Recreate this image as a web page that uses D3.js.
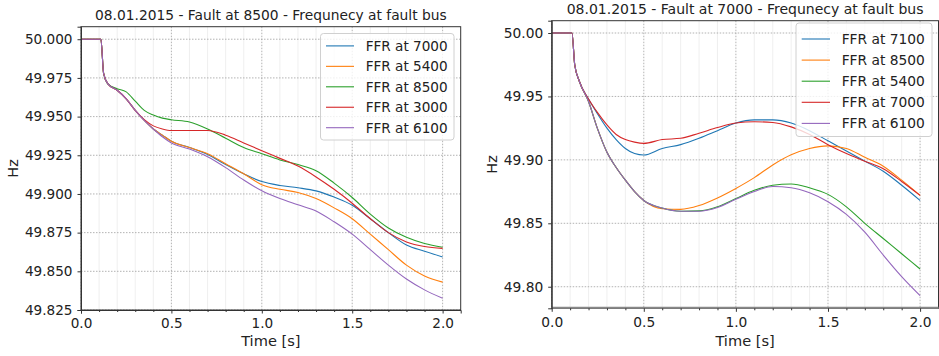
<!DOCTYPE html>
<html>
<head>
<meta charset="utf-8">
<script src="https://cdn.jsdelivr.net/npm/d3@7"></script>
<style>
  body { margin: 0; background: #fff; }
  svg { display: block; font-family: "DejaVu Sans", sans-serif; }
</style>
</head>
<body>
<svg id="chart" width="939" height="356"></svg>
<script>
// time samples shared by every series (seconds)
const times = [0, 0.11, 0.125, 0.15, 0.2, 0.25, 0.3, 0.35, 0.4, 0.45, 0.5, 0.6, 0.7, 0.8, 0.9,
               1.0, 1.1, 1.2, 1.3, 1.4, 1.5, 1.6, 1.7, 1.8, 1.9, 2.0];

// left panel: fault at 8500
const leftNames = ["FFR at 7000", "FFR at 5400", "FFR at 8500", "FFR at 3000", "FFR at 6100"];
const left7000 = [50, 50, 49.978, 49.971, 49.967, 49.9615, 49.954, 49.9475, 49.942, 49.938, 49.934, 49.930, 49.9255,
                  49.919, 49.913, 49.908, 49.9055, 49.904, 49.902, 49.898, 49.8927, 49.884, 49.875, 49.867, 49.863, 49.8593];
const left5400 = [50, 50, 49.978, 49.971, 49.967, 49.9615, 49.954, 49.9475, 49.942, 49.938, 49.934, 49.930, 49.926,
                  49.9195, 49.913, 49.906, 49.903, 49.901, 49.897, 49.891, 49.884, 49.874, 49.864, 49.854, 49.847, 49.843];
const left8500 = [50, 50, 49.978, 49.971, 49.968, 49.966, 49.960, 49.954, 49.951, 49.949, 49.948, 49.9465, 49.942,
                  49.936, 49.930, 49.926, 49.922, 49.919, 49.915, 49.907, 49.8977, 49.887, 49.878, 49.872, 49.868, 49.8656];
const left3000 = [50, 50, 49.978, 49.971, 49.967, 49.9615, 49.954, 49.948, 49.944, 49.942, 49.941, 49.941, 49.941,
                  49.938, 49.933, 49.928, 49.923, 49.918, 49.911, 49.903, 49.894, 49.884, 49.875, 49.869, 49.866, 49.8648];
const left6100 = [50, 50, 49.978, 49.971, 49.967, 49.9615, 49.954, 49.9475, 49.942, 49.937, 49.933, 49.929, 49.924,
                  49.917, 49.909, 49.902, 49.897, 49.893, 49.889, 49.882, 49.874, 49.864, 49.854, 49.845, 49.838, 49.8326];
const leftTicks = [49.825, 49.850, 49.875, 49.900, 49.925, 49.950, 49.975, 50.000];

// right panel: fault at 7000
const rightNames = ["FFR at 7100", "FFR at 8500", "FFR at 5400", "FFR at 7000", "FFR at 6100"];
const right7100 = [50, 50, 49.975, 49.962, 49.948, 49.936, 49.925, 49.916, 49.909, 49.905, 49.9038, 49.909, 49.912,
                   49.917, 49.923, 49.929, 49.9315, 49.9315, 49.929, 49.923, 49.915, 49.907, 49.899, 49.891, 49.880, 49.868];
const right8500 = [50, 50, 49.975, 49.962, 49.946, 49.924, 49.906, 49.894, 49.884, 49.875, 49.868, 49.8615, 49.861,
                   49.864, 49.870, 49.8775, 49.886, 49.896, 49.904, 49.909, 49.911, 49.909, 49.902, 49.895, 49.884, 49.872];
const right5400 = [50, 50, 49.975, 49.962, 49.946, 49.924, 49.906, 49.894, 49.884, 49.875, 49.868, 49.862, 49.8595,
                   49.8598, 49.863, 49.8695, 49.876, 49.880, 49.881, 49.878, 49.8728, 49.863, 49.850, 49.838, 49.826, 49.814];
const right7000 = [50, 50, 49.975, 49.962, 49.948, 49.937, 49.9275, 49.920, 49.916, 49.914, 49.913, 49.916, 49.917,
                   49.921, 49.9255, 49.929, 49.930, 49.9295, 49.926, 49.920, 49.912, 49.905, 49.899, 49.893, 49.883, 49.872];
const right6100 = [50, 50, 49.975, 49.962, 49.946, 49.924, 49.906, 49.894, 49.884, 49.875, 49.868, 49.862, 49.8595,
                   49.8595, 49.8625, 49.869, 49.875, 49.879, 49.878, 49.874, 49.867, 49.857, 49.843, 49.825, 49.808, 49.793];
const rightTicks = [49.80, 49.85, 49.90, 49.95, 50.00];

const xTicks = [0, 0.5, 1.0, 1.5, 2.0];
const colors = ["#1f77b4", "#ff7f0e", "#2ca02c", "#d62728", "#9467bd"];

const svg = d3.select("#chart");

function drawPanel(p) {
  const x = d3.scaleLinear().domain([0, 2.1]).range([p.x0, p.x1]);
  const y = d3.scaleLinear().domain(p.yDomain).range([p.y1, p.y0]);
  const g = svg.append("g");

  // minor vertical grid every 0.1 s
  const minor = d3.range(1, 21).map(i => i / 10).filter(v => Math.round(v * 10) % 5 !== 0);
  g.selectAll(".minor").data(minor).enter().append("line")
    .attr("x1", d => x(d)).attr("x2", d => x(d))
    .attr("y1", p.y0).attr("y2", p.y1)
    .attr("stroke", "#ebebeb").attr("stroke-width", 0.8);

  // major grid, dotted
  g.selectAll(".gx").data(xTicks).enter().append("line")
    .attr("x1", d => x(d)).attr("x2", d => x(d))
    .attr("y1", p.y0).attr("y2", p.y1)
    .attr("stroke", "#a0a0a0").attr("stroke-width", 0.8).attr("stroke-dasharray", "1.5,1.5");
  g.selectAll(".gy").data(p.yTicks).enter().append("line")
    .attr("x1", p.x0).attr("x2", p.x1)
    .attr("y1", d => y(d)).attr("y2", d => y(d))
    .attr("stroke", "#a0a0a0").attr("stroke-width", 0.8).attr("stroke-dasharray", "1.5,1.5");

  // curves
  const line = d3.line().x((d, i) => x(times[i])).y(d => y(d)).curve(d3.curveMonotoneX);
  g.selectAll(".series").data(p.series).enter().append("path")
    .attr("d", d => line(d))
    .attr("fill", "none")
    .attr("stroke", (d, i) => colors[i])
    .attr("stroke-width", 1.1);

  // spines
  g.append("rect")
    .attr("x", p.x0).attr("y", p.y0)
    .attr("width", p.x1 - p.x0).attr("height", p.y1 - p.y0)
    .attr("fill", "none").attr("stroke", "#333").attr("stroke-width", 1);
  if (p.thickBottom) {
    g.append("line").attr("x1", p.x0).attr("x2", p.x1).attr("y1", p.y1 - 0.5).attr("y2", p.y1 - 0.5)
      .attr("stroke", "#888").attr("stroke-width", 2);
  }

  // axes
  const ax = g.append("g").attr("transform", "translate(0," + p.y1 + ")")
    .call(d3.axisBottom(x).tickValues(xTicks).tickFormat(d3.format(".1f")).tickSize(3.5).tickPadding(5));
  g.append("g").attr("transform", "translate(0," + p.y1 + ")")
    .call(d3.axisBottom(x).tickValues(minor).tickFormat("").tickSize(2))
    .call(s => s.select(".domain").remove());
  const ay = g.append("g").attr("transform", "translate(" + p.x0 + ",0)")
    .call(d3.axisLeft(y).tickValues(p.yTicks).tickFormat(d3.format(p.yFormat)).tickSize(3.5).tickPadding(5));
  [ax, ay].forEach(a => {
    a.select(".domain").attr("stroke", "#333");
    a.selectAll("text").attr("font-size", p.fs + "px").attr("fill", "#222")
      .attr("font-family", "DejaVu Sans");
  });
  if (p.thickBottom) ax.select(".domain").remove();
  g.selectAll(".tick line").attr("stroke", "#333");

  // labels
  g.append("text").attr("x", (p.x0 + p.x1) / 2).attr("y", p.y0 - 7)
    .attr("text-anchor", "middle").attr("font-size", p.fs + 0.2 + "px").attr("fill", "#222")
    .text(p.title);
  g.append("text").attr("x", (p.x0 + p.x1) / 2).attr("y", 346)
    .attr("text-anchor", "middle").attr("font-size", "14.6px").attr("fill", "#222")
    .text("Time [s]");
  g.append("text")
    .attr("transform", "translate(" + p.hzX + "," + (p.y0 + p.y1) / 2 + ") rotate(-90)")
    .attr("text-anchor", "middle").attr("font-size", "14.6px").attr("fill", "#222")
    .text("Hz");

  // legend
  const L = p.legend;
  const lg = g.append("g");
  lg.append("rect").attr("x", L.x).attr("y", L.y).attr("width", L.w).attr("height", L.h)
    .attr("rx", 3).attr("fill", "#fff").attr("fill-opacity", 0.8)
    .attr("stroke", "#d0d0d0").attr("stroke-width", 1);
  const rows = lg.selectAll(".row").data(p.names).enter().append("g")
    .attr("transform", (d, i) => "translate(0," + (L.firstRow + i * L.step) + ")");
  rows.append("line").attr("x1", L.hx0).attr("x2", L.hx1)
    .attr("stroke", (d, i) => colors[i]).attr("stroke-width", 1.1);
  rows.append("text").attr("x", L.tx).attr("dy", "0.36em")
    .attr("font-size", p.fs + "px").attr("fill", "#222").text(d => d);
}

drawPanel({
  x0: 81, x1: 460.7, y0: 26.7, y1: 310,
  yDomain: [49.825, 50.0081], yTicks: leftTicks, yFormat: ".3f",
  series: [left7000, left5400, left8500, left3000, left6100], names: leftNames,
  title: "08.01.2015 - Fault at 8500 - Frequnecy at fault bus",
  fs: 13.6, hzX: 18, thickBottom: false,
  legend: { x: 320.5, y: 33.5, w: 133.5, h: 106.5, firstRow: 45.9, step: 20.45, hx0: 326, hx1: 354, tx: 365.7 }
});

drawPanel({
  x0: 551.7, x1: 938.5, y0: 20.7, y1: 308.3,
  yDomain: [49.783, 50.0097], yTicks: rightTicks, yFormat: ".2f",
  series: [right7100, right8500, right5400, right7000, right6100], names: rightNames,
  title: "08.01.2015 - Fault at 7000 - Frequnecy at fault bus",
  fs: 13.8, hzX: 497, thickBottom: true,
  legend: { x: 796, y: 23, w: 136, h: 113.5, firstRow: 39, step: 21.1, hx0: 801.7, hx1: 830, tx: 841.7 }
});
</script>
</body>
</html>
